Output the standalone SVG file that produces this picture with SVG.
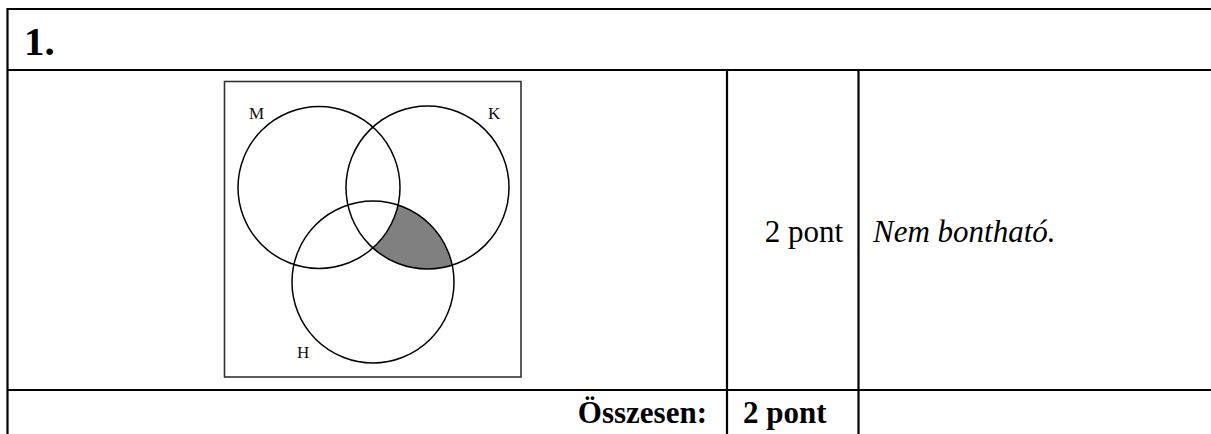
<svg xmlns="http://www.w3.org/2000/svg" width="1211" height="434" viewBox="0 0 1211 434">
<style>
.grid{stroke:#000;stroke-width:2.2;fill:none}
.c{fill:none;stroke:#000;stroke-width:1.5}
.t{font-family:"Liberation Serif","Times New Roman",serif;fill:#000}
.lbl{font-family:"Liberation Serif","Times New Roman",serif;font-size:17px;fill:#111}
</style>
<defs>
<clipPath id="clipK"><circle cx="427.5" cy="187.5" r="81.5"/></clipPath>
</defs>
<rect width="1211" height="434" fill="#fff"/>
<g id="table" class="grid">
<line x1="7.5" y1="9" x2="1211" y2="9"/>
<line x1="7.5" y1="8" x2="7.5" y2="434"/>
<line x1="7.5" y1="70" x2="1211" y2="70"/>
<line x1="727" y1="70" x2="727" y2="434"/>
<line x1="858.5" y1="70" x2="858.5" y2="434"/>
<line x1="7.5" y1="390" x2="1211" y2="390"/>
</g>
<g id="header"><text class="t" x="24" y="55" font-size="41" font-weight="bold">1.</text></g>
<g id="venn">
<rect x="224.5" y="81.5" width="296.5" height="295.5" fill="none" stroke="#333" stroke-width="1.6"/>
<g clip-path="url(#clipK)">
<circle cx="373" cy="282" r="81" fill="#808080"/>
<circle cx="319" cy="187.5" r="81" fill="#fff"/>
</g>
<circle class="c" cx="319" cy="187.5" r="81"/>
<circle class="c" cx="427.5" cy="187.5" r="81.5"/>
<circle class="c" cx="373" cy="282" r="81"/>
<text class="lbl" x="249" y="119">M</text>
<text class="lbl" x="488" y="119">K</text>
<text class="lbl" x="297" y="358">H</text>
</g>
<g id="score"><text class="t" x="843" y="242" font-size="31" text-anchor="end">2 pont</text></g>
<g id="note"><text class="t" x="873" y="242" font-size="31" font-style="italic">Nem bontható.</text></g>
<g id="total">
<text class="t" x="707" y="423" font-size="31" font-weight="bold" text-anchor="end">Összesen:</text>
<text class="t" x="743" y="423" font-size="31" font-weight="bold">2 pont</text>
</g>
</svg>
